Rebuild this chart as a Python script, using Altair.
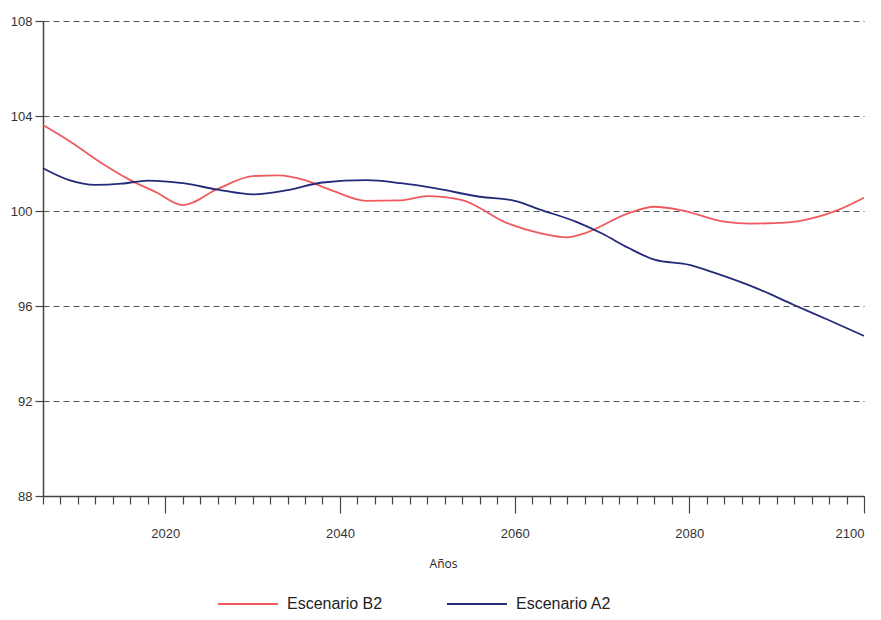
import altair as alt
import pandas as pd

b2_years = [2006, 2009, 2013, 2016, 2019, 2022, 2026, 2030, 2033, 2036, 2039, 2043, 2047,
            2050, 2054, 2059, 2063, 2066, 2068, 2073, 2076, 2079, 2084, 2087, 2091, 2094, 2097, 2100]
b2_vals = [103.62, 102.95, 101.95, 101.3, 100.78, 100.25, 100.93, 101.47, 101.5, 101.3, 100.88,
           100.43, 100.45, 100.63, 100.46, 99.51, 99.06, 98.89, 99.06, 99.9, 100.18, 100.04,
           99.55, 99.47, 99.51, 99.69, 100.04, 100.56]

a2_years = [2006, 2009, 2012, 2015, 2018, 2022, 2026, 2030, 2034, 2038, 2043, 2047, 2051,
            2056, 2060, 2063, 2067, 2070, 2073, 2076, 2080, 2083, 2088, 2092, 2096, 2100]
a2_vals = [101.8, 101.3, 101.1, 101.15, 101.28, 101.17, 100.9, 100.7, 100.88, 101.2, 101.3,
           101.17, 100.95, 100.6, 100.43, 100.05, 99.55, 99.05, 98.45, 97.95, 97.73, 97.38,
           96.7, 96.04, 95.4, 94.74]

series_names = ["Escenario B2", "Escenario A2"]
series_colors = ["#f05a5e", "#232a7a"]

y_ticks = [88, 92, 96, 100, 104, 108]
x_ticks = list(range(2006, 2101, 2))

df = pd.concat([
    pd.DataFrame({"Año": b2_years, "valor": b2_vals, "serie": series_names[0]}),
    pd.DataFrame({"Año": a2_years, "valor": a2_vals, "serie": series_names[1]}),
])

chart = alt.Chart(df).mark_line(strokeWidth=1.8, interpolate="monotone").encode(
    x=alt.X("Año:Q", scale=alt.Scale(domain=[2006, 2100], nice=False, zero=False),
            axis=alt.Axis(values=x_ticks, grid=False, title="Años",
                          labelExpr="datum.value % 20 == 0 ? datum.value : ''",
                          format="d",
                          tickSize={"condition": {"test": "datum.value % 20 == 0", "value": 17}, "value": 8},
                          labelPadding=14, titlePadding=18,
                          titleFont="Open Sans", titleFontSize=12, titleFontWeight="normal",
                          titleColor="#222", titleX=400)),
    y=alt.Y("valor:Q", scale=alt.Scale(domain=[88, 108], nice=False, zero=False),
            axis=alt.Axis(values=y_ticks, title=None, grid=True, gridDash=[6, 4],
                          gridColor="#555", gridWidth=1.1, tickSize=8, labelPadding=3)),
    color=alt.Color("serie:N", scale=alt.Scale(domain=series_names, range=series_colors),
                    legend=alt.Legend(title=None, orient="none", direction="horizontal",
                                      legendX=174, legendY=552, symbolType="stroke",
                                      symbolSize=3600, symbolStrokeWidth=1.8,
                                      labelFontSize=16, labelColor="#222", labelOffset=8,
                                      columnPadding=60, labelFont="Liberation Sans")),
).properties(
    width=821, height=475,
    autosize=alt.AutoSizeParams(type="none"),
    padding={"left": 35, "top": 13, "right": 9, "bottom": 116},
).configure_axis(
    domainColor="#444", domainWidth=1.5, tickColor="#444", tickWidth=1.2,
    labelFont="Liberation Sans", labelFontSize=13, labelColor="#333",
).configure_view(stroke=None)

chart.save("out.html", embed_options={"renderer": "svg", "actions": False})
